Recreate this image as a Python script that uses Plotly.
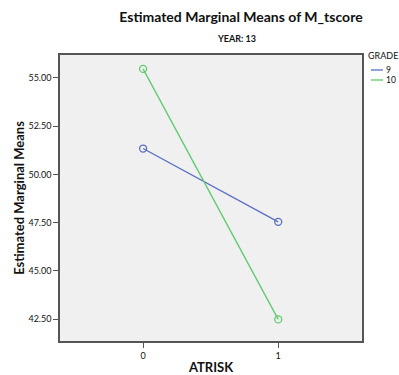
import plotly.graph_objects as go

# Estimated marginal means of M_tscore by ATRISK, split by GRADE (YEAR 13)
atrisk = [0, 1]
grade_labels = ["9", "10"]
means_grade9 = [51.34, 47.54]
means_grade10 = [55.47, 42.48]
y_ticks = [42.5, 45.0, 47.5, 50.0, 52.5, 55.0]

colors = {"9": "#5a6ec4", "10": "#5ccb6c"}
series = {"9": means_grade9, "10": means_grade10}

font_family = "Lato, 'DejaVu Sans', sans-serif"

fig = go.Figure()
for g in grade_labels:
    fig.add_trace(go.Scatter(
        x=atrisk, y=series[g], mode="lines+markers", name=g,
        line=dict(color=colors[g], width=1.3),
        marker=dict(symbol="circle-open", size=7, color=colors[g], line=dict(width=1.3)),
        showlegend=False, hoverinfo="x+y",
    ))

# Compact legend placed in the right margin (line swatches only)
annotations = [
    dict(text="<b>YEAR: 13</b>", xref="paper", yref="paper",
         x=0.586, y=1.059, xanchor="center", yanchor="middle",
         showarrow=False, font=dict(size=9)),
    dict(text="GRADE", xref="paper", yref="paper",
         x=1.013, y=1.0, xanchor="left", yanchor="middle",
         showarrow=False, font=dict(size=9)),
]
shapes = []
legend_rows = [0.9476, 0.9126]
for g, yy in zip(grade_labels, legend_rows):
    shapes.append(dict(type="line", xref="paper", yref="paper",
                       x0=1.0298, x1=1.0695, y0=yy, y1=yy,
                       line=dict(color=colors[g], width=1.3)))
    annotations.append(dict(text=g, xref="paper", yref="paper",
                            x=1.0762, y=yy, xanchor="left", yanchor="middle",
                            showarrow=False, font=dict(size=8.5),
                            borderpad=0))

fig.update_layout(
    width=399, height=375,
    margin=dict(l=60, r=37, t=55, b=34),
    paper_bgcolor="white",
    plot_bgcolor="#f0f0f0",
    font=dict(family=font_family, color="#111111"),
    title=dict(
        text="<b>Estimated Marginal Means of M_tscore</b>",
        x=0.604, xanchor="center", y=0.955, yanchor="middle",
        font=dict(size=14),
    ),
    showlegend=False,
    annotations=annotations,
    shapes=shapes,
)

fig.update_xaxes(
    range=[-0.615, 1.62], tickvals=atrisk, ticktext=["0", "1"],
    showgrid=False, zeroline=False, automargin=False,
    showline=True, linecolor="#555555", linewidth=1.5, mirror=True,
    ticks="outside", ticklen=5, tickcolor="#555555",
    tickfont=dict(size=9),
    title=dict(text="<b>ATRISK</b>", font=dict(size=13), standoff=12),
)
fig.update_yaxes(
    range=[41.36, 56.19], tickvals=y_ticks,
    ticktext=[f"{v:.2f}" for v in y_ticks],
    showgrid=False, zeroline=False, automargin=False,
    showline=True, linecolor="#555555", linewidth=1.5, mirror=True,
    ticks="outside", ticklen=5, tickcolor="#555555",
    tickfont=dict(size=9),
    title=dict(text="<b>Estimated Marginal Means</b>", font=dict(size=13), standoff=1),
)

fig.write_html("out.html")
